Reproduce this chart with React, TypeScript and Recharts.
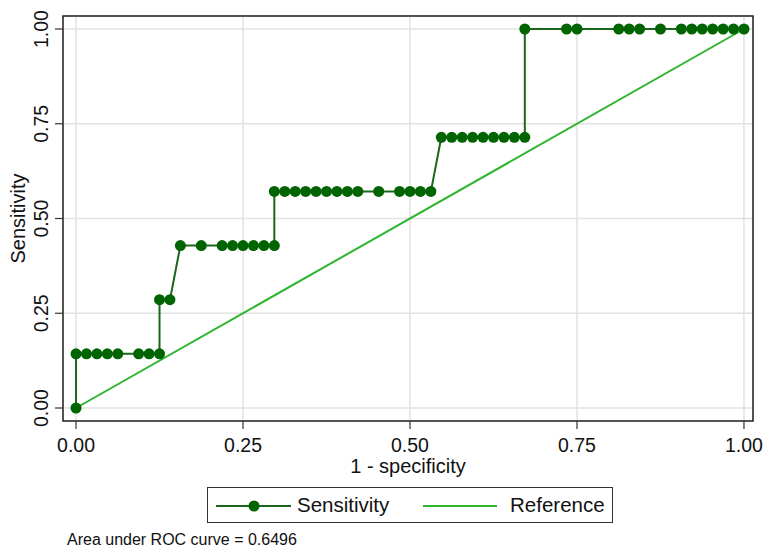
import React from 'react';
import {
  ComposedChart,
  Line,
  XAxis,
  YAxis,
  CartesianGrid,
  ReferenceArea,
} from 'recharts';

// ROC steps: false positives out of 64 negatives,
// true positives out of 7 positives
const N_NEG = 64;
const N_POS = 7;
const FP_COUNTS = [
  0,
  0, 1, 2, 3, 4, 6, 7, 8,
  8, 9,
  10, 12, 14, 15, 16, 17, 18, 19,
  19, 20, 21, 22, 23, 24, 25, 26, 27, 29, 31, 32, 33, 34,
  35, 36, 37, 38, 39, 40, 41, 42, 43,
  43, 47, 48, 52, 53, 54, 56, 58, 59, 60, 61, 62, 63, 64,
];
const TP_COUNTS = [
  0,
  1, 1, 1, 1, 1, 1, 1, 1,
  2, 2,
  3, 3, 3, 3, 3, 3, 3, 3,
  4, 4, 4, 4, 4, 4, 4, 4, 4, 4, 4, 4, 4, 4,
  5, 5, 5, 5, 5, 5, 5, 5, 5,
  7, 7, 7, 7, 7, 7, 7, 7, 7, 7, 7, 7, 7, 7,
];
const REF_X = [0, 1];
const REF_Y = [0, 1];
const TICKS = [0, 0.25, 0.5, 0.75, 1];
const TICK_LABELS = ['0.00', '0.25', '0.50', '0.75', '1.00'];
const AUC_TEXT = 'Area under ROC curve = 0.6496';

const sensData = FP_COUNTS.map((fp, i) => ({ x: fp / N_NEG, y: TP_COUNTS[i] / N_POS }));
const refData = REF_X.map((x, i) => ({ x, y: REF_Y[i] }));

const FONT = '"Liberation Sans", Arial, Helvetica, sans-serif';
const DARK = '#006400';
const LINE = '#1c661c';
const REF = '#2db52d';
const TXT = '#111';

// axis padding so the frame sits a little outside the data range
const X_DOM: [number, number] = [-0.0195, 1.0135];
const Y_DOM: [number, number] = [-0.0343, 1.0343];

const fmt = (v: number) => TICK_LABELS[TICKS.indexOf(v)] ?? String(v);

function YTick({ x, y, payload }: any) {
  return (
    <text
      x={x}
      y={y}
      transform={`rotate(-90 ${x} ${y})`}
      textAnchor="middle"
      fill={TXT}
      fontSize={19.5}
      fontFamily={FONT}
    >
      {fmt(payload.value)}
    </text>
  );
}

export default function App() {
  return (
    <div style={{ position: 'relative', width: 764, height: 549, fontFamily: FONT, background: '#fff' }}>
      <style>{'body{margin:0}'}</style>
      <ComposedChart
        width={764}
        height={549}
        margin={{ top: 16, right: 11, left: 0, bottom: 68 }}
      >
        <CartesianGrid stroke="#e2e2e2" strokeWidth={1.5} />
        <XAxis
          type="number"
          dataKey="x"
          domain={X_DOM}
          allowDataOverflow
          ticks={TICKS}
          tickFormatter={fmt}
          height={60}
          tickSize={8}
          tickMargin={9}
          axisLine={false}
          tickLine={{ stroke: '#333', strokeWidth: 1.2 }}
          tick={{ fill: TXT, fontSize: 19.5, fontFamily: FONT }}
          label={(p: any) => (
            <text
              x={p.viewBox.x + p.viewBox.width / 2}
              y={473}
              textAnchor="middle"
              fill={TXT}
              fontSize={20}
              fontFamily={FONT}
            >
              1 - specificity
            </text>
          )}
        />
        <YAxis
          type="number"
          dataKey="y"
          domain={Y_DOM}
          allowDataOverflow
          ticks={TICKS}
          width={63}
          tickSize={8}
          tickMargin={7}
          axisLine={false}
          tickLine={{ stroke: '#333', strokeWidth: 1.2 }}
          tick={<YTick />}
          label={(p: any) => {
            const cy = p.viewBox.y + p.viewBox.height / 2;
            return (
              <text
                x={25}
                y={cy}
                transform={`rotate(-90 25 ${cy})`}
                textAnchor="middle"
                fill={TXT}
                fontSize={20}
                fontFamily={FONT}
              >
                Sensitivity
              </text>
            );
          }}
        />
        <ReferenceArea
          x1={X_DOM[0]}
          x2={X_DOM[1]}
          y1={Y_DOM[0]}
          y2={Y_DOM[1]}
          fill="none"
          stroke="#222"
          strokeWidth={1.5}
          ifOverflow="visible"
        />
        <Line
          data={sensData}
          dataKey="y"
          type="linear"
          stroke={LINE}
          strokeWidth={2}
          dot={{ r: 5.5, fill: DARK, stroke: DARK, strokeWidth: 0 }}
          activeDot={false}
          isAnimationActive={false}
          name="Sensitivity"
        />
        <Line
          data={refData}
          dataKey="y"
          type="linear"
          stroke={REF}
          strokeWidth={2}
          dot={false}
          activeDot={false}
          isAnimationActive={false}
          name="Reference"
        />
      </ComposedChart>

      {/* legend box */}
      <div
        style={{
          position: 'absolute',
          left: 207,
          top: 487,
          width: 404,
          height: 34,
          border: '1.5px solid #333',
          fontSize: 20.5,
          color: TXT,
        }}
      >
        <svg width={404} height={34} style={{ position: 'absolute', left: 0, top: 0 }}>
          <line x1={8} x2={83} y1={18} y2={18} stroke={LINE} strokeWidth={2} />
          <circle cx={46} cy={18} r={5.5} fill={DARK} />
          <line x1={215} x2={289} y1={18} y2={18} stroke={REF} strokeWidth={2} />
        </svg>
        <span style={{ position: 'absolute', left: 89, top: 5, lineHeight: '24px' }}>Sensitivity</span>
        <span style={{ position: 'absolute', left: 302, top: 5, lineHeight: '24px' }}>Reference</span>
      </div>

      <div style={{ position: 'absolute', left: 67, top: 531, fontSize: 16, lineHeight: '17px', color: TXT }}>
        {AUC_TEXT}
      </div>
    </div>
  );
}
